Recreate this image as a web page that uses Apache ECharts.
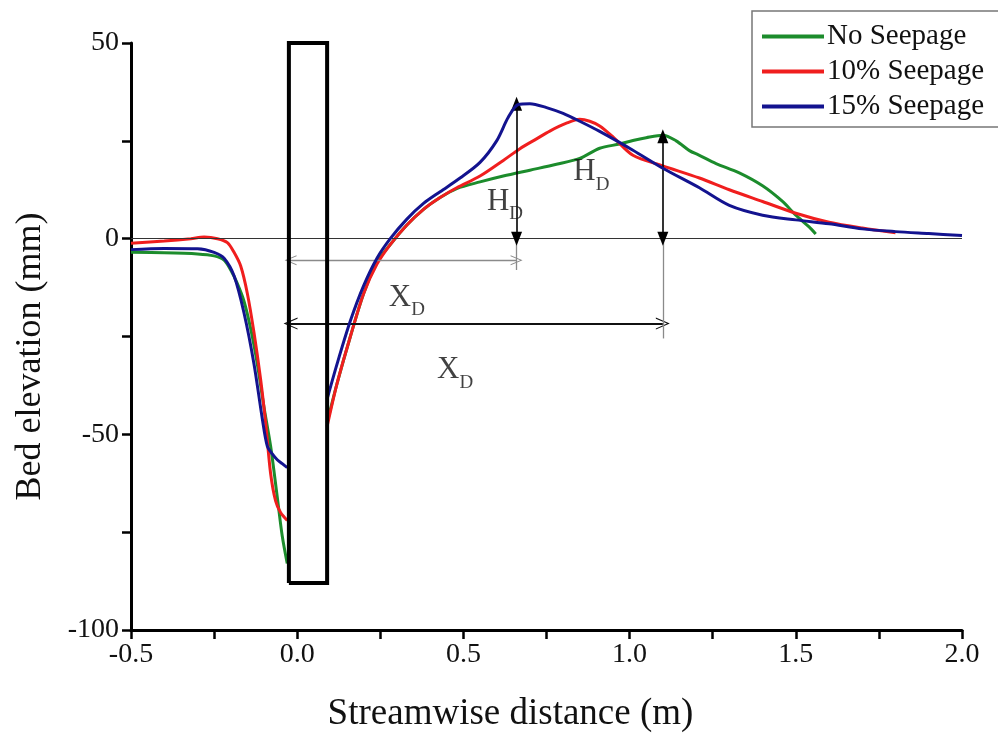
<!DOCTYPE html>
<html>
<head>
<meta charset="utf-8">
<script src="https://cdn.jsdelivr.net/npm/echarts@6/dist/echarts.min.js"></script>
<style>
  html, body { margin: 0; padding: 0; background: #ffffff; }
  #chart { width: 998px; height: 738px; }
</style>
</head>
<body>
<div id="chart"></div>
<script>
const FONT = 'Liberation Serif';

const seriesNames = ['No Seepage', '10% Seepage', '15% Seepage'];
const seriesColors = ['#1c8c2c', '#f01e1e', '#13138f'];

// Bed profile upstream of the pier (x in m, elevation in mm)
const greenUpX = [-0.5, -0.4, -0.3, -0.25, -0.22, -0.2, -0.18, -0.16, -0.14, -0.12, -0.10, -0.08, -0.06, -0.045, -0.03];
const greenUpY = [-3.5, -3.6, -3.9, -4.4, -5.5, -8, -11.5, -16, -23, -32, -43, -53, -66, -76, -83];
const redUpX = [-0.5, -0.4, -0.32, -0.28, -0.24, -0.21, -0.19, -0.17, -0.15, -0.13, -0.11, -0.095, -0.08, -0.065, -0.05, -0.03];
const redUpY = [-1.2, -0.6, 0.0, 0.4, 0.0, -1, -3.5, -7, -14, -24, -36, -47, -60, -67, -70, -72];
const blueUpX = [-0.5, -0.4, -0.3, -0.25, -0.22, -0.19, -0.16, -0.13, -0.105, -0.09, -0.075, -0.06, -0.045, -0.03];
const blueUpY = [-2.8, -2.5, -2.6, -3.5, -5, -9.5, -19, -32, -46, -53, -55, -56.5, -57.5, -58.5];

// Bed profile downstream of the pier
const greenDnX = [0.09, 0.12, 0.16, 0.2, 0.24, 0.28, 0.33, 0.38, 0.43, 0.48, 0.55, 0.62, 0.7, 0.78, 0.85, 0.91, 0.97, 1.01, 1.05, 1.1, 1.14, 1.18, 1.21, 1.26, 1.33, 1.4, 1.46, 1.5, 1.54, 1.56];
const greenDnY = [-47, -37, -25, -14, -6, -1.5, 3.5, 7.5, 10.5, 12.8, 14.5, 16, 17.5, 19, 20.5, 23.1, 24.2, 25.1, 25.8, 26.4, 25, 22.5, 21.3, 19.2, 16.8, 13.5, 9.5, 6, 3, 1.2];
const redDnX = [0.09, 0.12, 0.16, 0.2, 0.24, 0.28, 0.33, 0.38, 0.43, 0.48, 0.55, 0.62, 0.67, 0.72, 0.76, 0.81, 0.85, 0.88, 0.91, 0.95, 1.01, 1.1, 1.21, 1.3, 1.4, 1.5, 1.6, 1.7, 1.8];
const redDnY = [-48, -37, -25, -14, -6.5, -1.5, 3.5, 7.5, 10.5, 13, 16, 20, 23, 25.5, 27.5, 29.5, 30.5, 30, 28.8, 26, 21.3, 18.6, 15.5, 12.5, 9.5, 6.5, 4.2, 2.7, 1.5];
const blueDnX = [0.09, 0.12, 0.16, 0.2, 0.24, 0.28, 0.33, 0.38, 0.43, 0.49, 0.55, 0.6, 0.635, 0.665, 0.7, 0.75, 0.8, 0.85, 0.91, 1.01, 1.1, 1.21, 1.3, 1.4, 1.5, 1.6, 1.7, 1.8, 1.9, 2.0];
const blueDnY = [-41, -32, -21, -12, -5, 0, 5, 9, 12, 15.5, 19.5, 25, 31, 34.3, 34.5, 33.5, 32, 30, 27.4, 22.6, 18, 13, 8.5, 6, 4.8, 3.8, 2.5, 1.8, 1.3, 0.8];

// Pier outline (x in m, elevation in mm)
const pierX = [-0.025, -0.025, 0.09, 0.09, -0.025];
const pierY = [-88, 50, 50, -88, -88];

// Dimension annotations
const xdShort = { x0: -0.02, x1: 0.66, y: -5.5, tickBottom: -8 };
const xdLong = { x0: -0.02, x1: 1.10, y: -21.7, tickBottom: -25.5 };
const hdBlue = { x: 0.66, top: 34.5 };
const hdGreen = { x: 1.10, top: 26.2 };
const labelPos = {
  xd1: [0.33, -15],
  xd2: [0.475, -33.5],
  hd1: [0.625, 9.5],
  hd2: [0.885, 17]
};

const zip = (xs, ys) => xs.map((x, i) => [x, ys[i]]);

const profiles = [
  [greenUpX, greenUpY, greenDnX, greenDnY],
  [redUpX, redUpY, redDnX, redDnY],
  [blueUpX, blueUpY, blueDnX, blueDnY]
];

const series = [];
profiles.forEach((p, i) => {
  [[p[0], p[1]], [p[2], p[3]]].forEach(seg => {
    series.push({
      name: seriesNames[i],
      type: 'line',
      data: zip(seg[0], seg[1]),
      smooth: 0.3,
      showSymbol: false,
      silent: true,
      z: 3 + i,
      lineStyle: { color: seriesColors[i], width: 3 },
      itemStyle: { color: seriesColors[i] }
    });
  });
});

// thin open arrow head
const openHead = 'path://M0,12 L6,0 L12,12 L10.8,12 L6,2.4 L1.2,12 Z';

series.push({
  name: 'pier',
  type: 'line',
  data: zip(pierX, pierY),
  showSymbol: false,
  silent: true,
  z: 8,
  lineStyle: { color: '#000', width: 4, join: 'miter' }
});

series.push({
  name: 'annotations',
  type: 'line',
  data: [],
  silent: true,
  z: 6,
  markLine: {
    silent: true,
    animation: false,
    label: { show: false },
    emphasis: { disabled: true },
    data: [
      [{ coord: [-0.5, 0], symbol: 'none', lineStyle: { color: '#333', width: 1.2, type: 'solid' } },
       { coord: [2.0, 0], symbol: 'none' }],
      [{ coord: [xdShort.x0, xdShort.y], symbol: openHead, symbolSize: [10, 12], lineStyle: { color: '#8a8a8a', width: 1.3, type: 'solid' } },
       { coord: [xdShort.x1, xdShort.y], symbol: openHead, symbolSize: [10, 12] }],
      [{ coord: [xdShort.x1, 0], symbol: 'none', lineStyle: { color: '#8a8a8a', width: 1.3, type: 'solid' } },
       { coord: [xdShort.x1, xdShort.tickBottom], symbol: 'none' }],
      [{ coord: [xdLong.x0, xdLong.y], symbol: openHead, symbolSize: [12, 14], lineStyle: { color: '#111', width: 2, type: 'solid' } },
       { coord: [xdLong.x1, xdLong.y], symbol: openHead, symbolSize: [12, 14] }],
      [{ coord: [xdLong.x1, 0], symbol: 'none', lineStyle: { color: '#8a8a8a', width: 1.3, type: 'solid' } },
       { coord: [xdLong.x1, xdLong.tickBottom], symbol: 'none' }],
      [{ coord: [hdBlue.x, 0], symbol: 'triangle', symbolSize: [11, 14], lineStyle: { color: '#000', width: 1.6, type: 'solid' } },
       { coord: [hdBlue.x, hdBlue.top], symbol: 'triangle', symbolSize: [11, 14] }],
      [{ coord: [hdGreen.x, 0], symbol: 'triangle', symbolSize: [11, 14], lineStyle: { color: '#000', width: 1.6, type: 'solid' } },
       { coord: [hdGreen.x, hdGreen.top], symbol: 'triangle', symbolSize: [11, 14] }]
    ]
  }
});

const subRich = {
  m: { fontFamily: FONT, fontSize: 31, color: '#111' },
  s: { fontFamily: FONT, fontSize: 19, color: '#111', padding: [26, 0, 0, 0] }
};
series.push({
  name: 'labels',
  type: 'scatter',
  silent: true,
  symbolSize: 0,
  z: 9,
  data: [
    { value: labelPos.xd1, label: { formatter: '{m|X}{s|D}' } },
    { value: labelPos.xd2, label: { formatter: '{m|X}{s|D}' } },
    { value: labelPos.hd1, label: { formatter: '{m|H}{s|D}' } },
    { value: labelPos.hd2, label: { formatter: '{m|H}{s|D}' } }
  ],
  label: { show: true, position: 'inside', rich: subRich }
});

const axisCommon = {
  axisLine: { show: true, onZero: false, lineStyle: { color: '#000', width: 3 } },
  axisTick: { show: true, inside: false, length: 9, lineStyle: { color: '#000', width: 2.5 } },
  minorTick: { show: true, splitNumber: 2, length: 9, lineStyle: { color: '#000', width: 2.5 } },
  splitLine: { show: false },
  nameLocation: 'middle'
};

const chart = echarts.init(document.getElementById('chart'), null, { renderer: 'canvas' });
chart.setOption({
  animation: false,
  backgroundColor: '#ffffff',
  grid: { left: 131, right: 36, top: 43, bottom: 99 },
  legend: {
    data: seriesNames,
    orient: 'vertical',
    left: 752,
    top: 11,
    icon: 'rect',
    itemWidth: 62,
    itemHeight: 4,
    itemGap: 6,
    padding: [11, 40, 6, 10],
    borderColor: '#777',
    borderWidth: 1.5,
    backgroundColor: '#fff',
    selectedMode: false,
    textStyle: { fontFamily: FONT, fontSize: 29, color: '#111', padding: [0, 0, 0, -2] }
  },
  xAxis: Object.assign({}, axisCommon, {
    type: 'value',
    min: -0.5,
    max: 2.0,
    interval: 0.5,
    name: 'Streamwise distance (m)',
    nameGap: 66,
    nameTextStyle: { fontFamily: FONT, fontSize: 37, color: '#111', padding: [0, 72, 0, 0] },
    axisLabel: { fontFamily: FONT, fontSize: 28, color: '#111', margin: 11, formatter: v => v.toFixed(1) }
  }),
  yAxis: Object.assign({}, axisCommon, {
    type: 'value',
    min: -100,
    max: 50,
    interval: 50,
    name: 'Bed elevation (mm)',
    nameGap: 82,
    nameTextStyle: { fontFamily: FONT, fontSize: 36, color: '#111', padding: [0, 40, 0, 0] },
    axisLabel: { fontFamily: FONT, fontSize: 28, color: '#111', margin: 12 }
  }),
  series: series
});
</script>
</body>
</html>
